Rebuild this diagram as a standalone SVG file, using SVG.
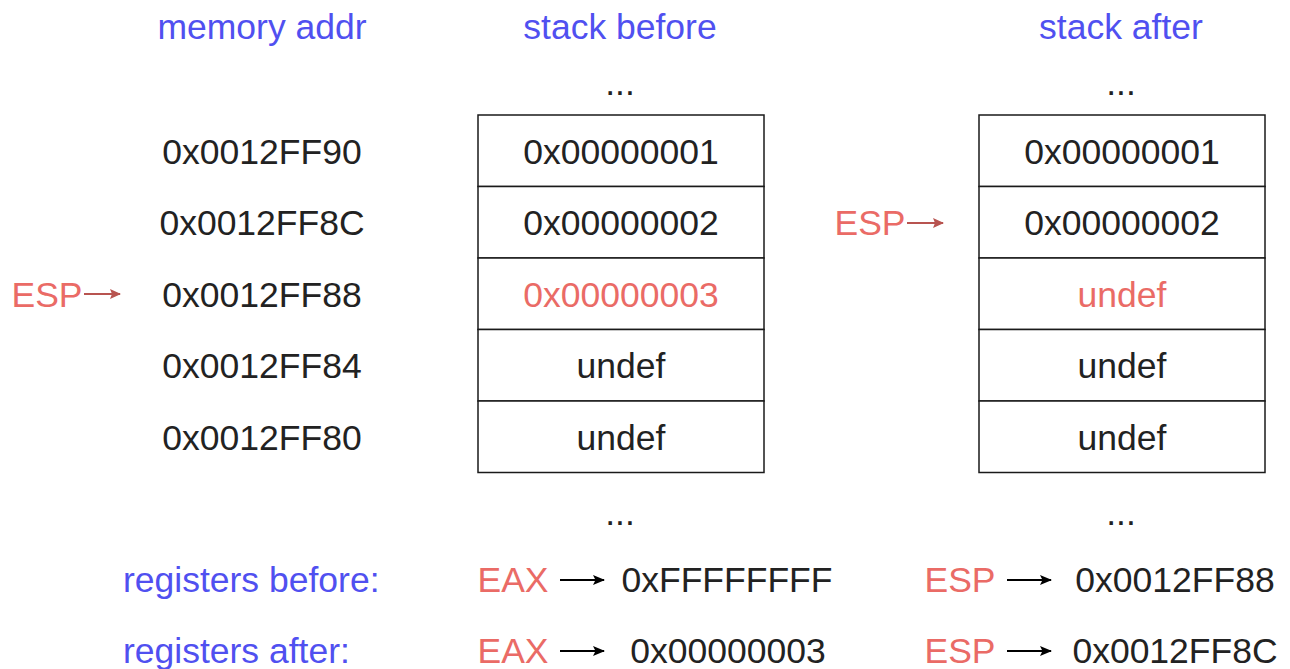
<svg xmlns="http://www.w3.org/2000/svg" width="1290" height="669" viewBox="0 0 1290 669">
  <style>
    text { font-family: "Liberation Sans", Arial, sans-serif; font-size: 35.5px; fill: #222222; text-anchor: middle; }
    .hdr { fill: #5050f0; }
    .reg { fill: #5050f0; text-anchor: start; }
    .red { fill: #ea6b66; }
    .cell { fill: #ffffff; stroke: #1a1a1a; stroke-width: 1.5; }
    .esp-arrow { stroke: #b85450; stroke-width: 2; fill: none; }
    .reg-arrow { stroke: #000000; stroke-width: 2; fill: none; }
  </style>
  <defs>
    <marker id="headRed" markerWidth="11" markerHeight="10" refX="10" refY="5" orient="auto" markerUnits="userSpaceOnUse">
      <path d="M0,0 L11,5 L0,10 L2,5 Z" fill="#b85450"/>
    </marker>
    <marker id="headBlack" markerWidth="12" markerHeight="10" refX="11" refY="5" orient="auto" markerUnits="userSpaceOnUse">
      <path d="M0,0 L12,5 L0,10 L2.5,5 Z" fill="#000000"/>
    </marker>
  </defs>

  <rect width="1290" height="669" fill="#ffffff"/>

  <!-- column headers -->
  <g id="headers">
    <text class="hdr" x="262" y="39">memory addr</text>
    <text class="hdr" x="620" y="39">stack before</text>
    <text class="hdr" x="1121" y="39">stack after</text>
  </g>

  <!-- memory addresses -->
  <g id="addresses">
    <text x="262" y="164">0x0012FF90</text>
    <text x="262" y="235">0x0012FF8C</text>
    <text x="262" y="307">0x0012FF88</text>
    <text x="262" y="378">0x0012FF84</text>
    <text x="262" y="450">0x0012FF80</text>
  </g>

  <!-- stack before -->
  <g id="stack-before">
    <text x="620" y="95">...</text>
    <rect class="cell" x="478" y="115" width="286" height="71.5"/>
    <rect class="cell" x="478" y="186.5" width="286" height="71.5"/>
    <rect class="cell" x="478" y="258" width="286" height="71.5"/>
    <rect class="cell" x="478" y="329.5" width="286" height="71.5"/>
    <rect class="cell" x="478" y="401" width="286" height="71.5"/>
    <text x="621" y="164">0x00000001</text>
    <text x="621" y="235">0x00000002</text>
    <text class="red" x="621" y="307">0x00000003</text>
    <text x="621" y="378">undef</text>
    <text x="621" y="450">undef</text>
    <text x="620" y="525">...</text>
  </g>

  <!-- stack after -->
  <g id="stack-after">
    <text x="1121" y="95">...</text>
    <rect class="cell" x="979" y="115" width="286" height="71.5"/>
    <rect class="cell" x="979" y="186.5" width="286" height="71.5"/>
    <rect class="cell" x="979" y="258" width="286" height="71.5"/>
    <rect class="cell" x="979" y="329.5" width="286" height="71.5"/>
    <rect class="cell" x="979" y="401" width="286" height="71.5"/>
    <text x="1122" y="164">0x00000001</text>
    <text x="1122" y="235">0x00000002</text>
    <text class="red" x="1122" y="307">undef</text>
    <text x="1122" y="378">undef</text>
    <text x="1122" y="450">undef</text>
    <text x="1121" y="525">...</text>
  </g>

  <!-- stack pointer labels -->
  <g id="esp-before">
    <text class="red" x="47" y="307">ESP</text>
  </g>
  <g id="esp-after">
    <text class="red" x="870" y="235">ESP</text>
  </g>

  <!-- register rows -->
  <g id="registers-before">
    <text class="reg" x="123" y="592">registers before:</text>
    <text class="red" x="513" y="592">EAX</text>
    <text x="727" y="592">0xFFFFFFFF</text>
    <text class="red" x="960" y="592">ESP</text>
    <text x="1175" y="592">0x0012FF88</text>
  </g>
  <g id="registers-after">
    <text class="reg" x="123" y="663">registers after:</text>
    <text class="red" x="513" y="663">EAX</text>
    <text x="728" y="663">0x00000003</text>
    <text class="red" x="960" y="663">ESP</text>
    <text x="1175" y="663">0x0012FF8C</text>
  </g>

  <!-- connectors -->
  <g id="connectors">
    <line class="esp-arrow" x1="84" y1="294" x2="120" y2="294" marker-end="url(#headRed)"/>
    <line class="esp-arrow" x1="907" y1="223" x2="943" y2="223" marker-end="url(#headRed)"/>
    <line class="reg-arrow" x1="560" y1="580" x2="604" y2="580" marker-end="url(#headBlack)"/>
    <line class="reg-arrow" x1="560" y1="651" x2="604" y2="651" marker-end="url(#headBlack)"/>
    <line class="reg-arrow" x1="1007" y1="580" x2="1051" y2="580" marker-end="url(#headBlack)"/>
    <line class="reg-arrow" x1="1007" y1="651" x2="1051" y2="651" marker-end="url(#headBlack)"/>
  </g>
</svg>
